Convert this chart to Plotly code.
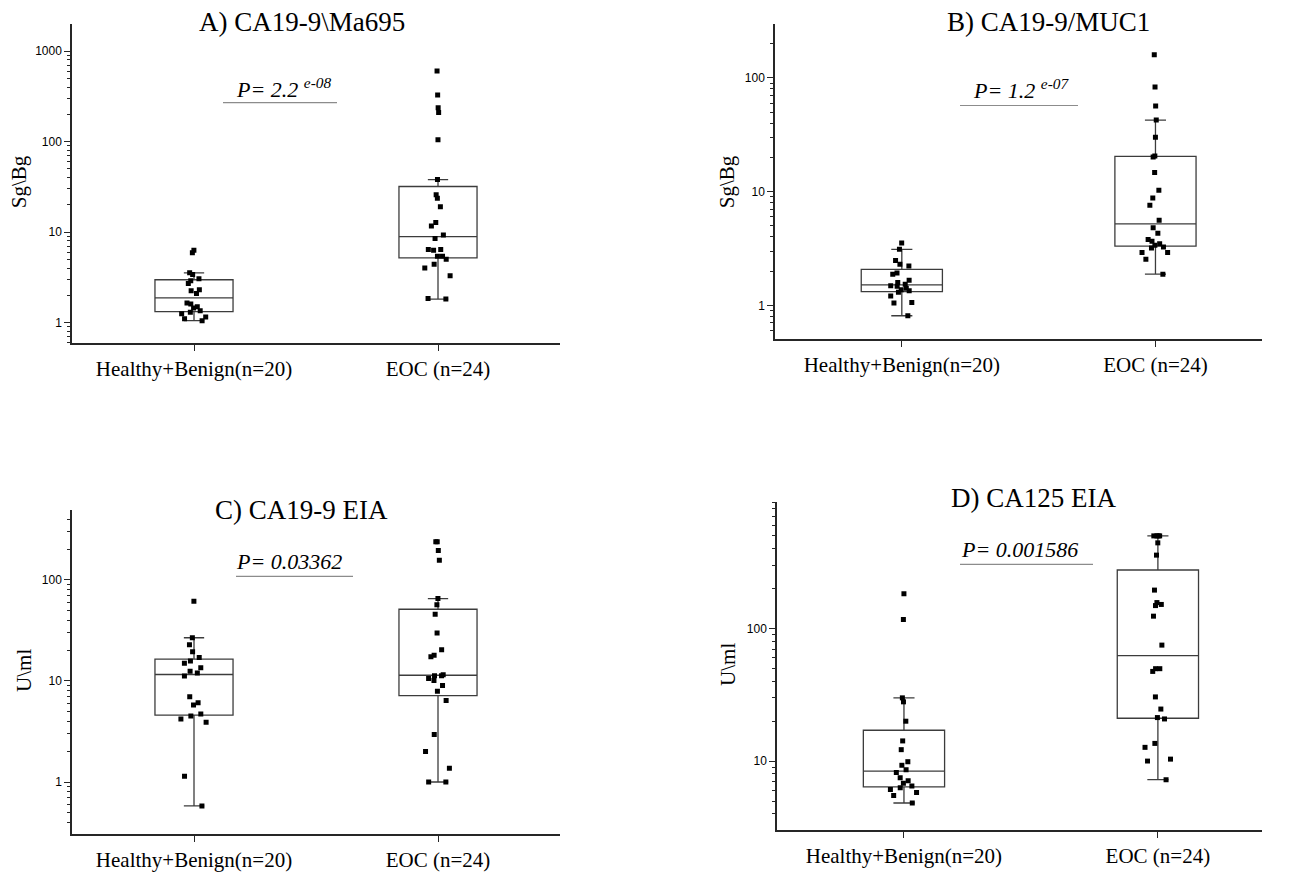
import plotly.graph_objects as go

# ---------------- data ----------------
groups = ["Healthy+Benign(n=20)", "EOC (n=24)"]

# A) CA19-9\Ma695  (Sg\Bg)
a_healthy = [6.3, 5.9, 3.55, 3.4, 3.05, 2.9, 2.7, 2.3, 2.25, 2.1,
             1.65, 1.6, 1.5, 1.45, 1.35, 1.3, 1.25, 1.15, 1.1, 1.05]
a_eoc = [601, 327, 237, 209, 105, 38, 25.8, 23.7, 19, 12.8, 11.7, 9.3,
         8.5, 6.4, 6.4, 6.3, 5.4, 5.4, 5.0, 4.4, 4.0, 3.3, 1.85, 1.82]

# B) CA19-9/MUC1  (Sg\Bg)
b_healthy = [3.54, 3.11, 2.48, 2.3, 2.22, 1.92, 1.88, 1.66, 1.59, 1.53,
             1.49, 1.47, 1.41, 1.37, 1.34, 1.3, 1.21, 1.06, 1.05, 0.81]
b_eoc = [160, 83, 56.5, 42.6, 30, 20.6, 20.2, 14.7, 10.3, 8.8, 7.6, 5.6,
         4.8, 4.3, 3.8, 3.66, 3.48, 3.37, 3.26, 3.19, 2.91, 2.91, 2.54, 1.88]

# C) CA19-9 EIA  (U\ml)
c_healthy = [61.6, 26.8, 22.9, 19.5, 17.1, 15.8, 15.0, 13.5, 12.5, 12.0,
             11.2, 7.0, 6.1, 5.8, 4.7, 4.5, 4.2, 3.9, 1.14, 0.58]
c_eoc = [239, 239, 196, 157, 65.5, 56.7, 45.9, 29.8, 20.4, 18, 17.4, 11.5,
         11.3, 11.3, 10.6, 10.1, 9.0, 7.9, 6.4, 2.95, 2.0, 1.37, 1.0, 1.0]

# D) CA125 EIA  (U\ml)
d_healthy = [183, 117, 30, 28, 20, 14.2, 12.2, 9.9, 9.3, 8.6,
             8.2, 7.5, 7.1, 6.8, 6.5, 6.3, 6.1, 5.8, 5.5, 4.83]
d_eoc = [500, 500, 500, 500, 443, 358, 195, 157, 152, 149, 124, 75,
         49.8, 49.8, 47.5, 30.5, 24.7, 21.3, 20.8, 13.6, 12.7, 10.35, 10.0, 7.24]

panel_titles = ["A) CA19-9\\Ma695", "B) CA19-9/MUC1", "C) CA19-9 EIA", "D) CA125 EIA"]
y_titles = ["Sg\\Bg", "Sg\\Bg", "U\\ml", "U\\ml"]
p_labels = ["<i>P= 2.2 <sup>e-08</sup></i>", "<i>P= 1.2 <sup>e-07</sup></i>",
            "<i>P= 0.03362</i>", "<i>P= 0.001586</i>"]
y_tickvals = [[1, 10, 100, 1000], [1, 10, 100], [1, 10, 100], [10, 100]]

# ---------------- layout geometry (pixels of a 1295x872 page) ----------------
W, H = 1295, 872


def fx(px):
    return px / W


def fy(py):
    return 1 - py / H


panels = [
    # x-left, x-right, y-top, y-bottom, log range, x range
    dict(x0=72, x1=560, y0=24, y1=345, yr=[-0.23, 3.30], xr=[-0.5, 1.5]),
    dict(x0=775, x1=1262, y0=24, y1=341, yr=[-0.30, 2.475], xr=[-0.5, 1.42]),
    dict(x0=72, x1=560, y0=512, y1=838, yr=[-0.516, 2.696], xr=[-0.5, 1.5]),
    dict(x0=777, x1=1262, y0=504, y1=834, yr=[0.479, 2.957], xr=[-0.5, 1.41]),
]
title_pos = [(302, 22), (1048, 22), (301, 512), (1033, 500)]
ytitle_pos = [(19, 183), (727, 183), (24, 674), (728, 668)]
p_pos = [(283, 88), (1021, 89), (289, 564), (1019, 552)]
p_line = [(223, 337, 103), (960, 1078, 106), (236, 353, 579), (960, 1093, 567)]

data = [(a_healthy, a_eoc), (b_healthy, b_eoc), (c_healthy, c_eoc), (d_healthy, d_eoc)]

AX = "#262626"
SERIF = "Liberation Serif"
SANS = "Liberation Sans"

fig = go.Figure()
layout = dict(
    width=W, height=H, margin=dict(l=0, r=0, t=0, b=0),
    paper_bgcolor="white", plot_bgcolor="white", showlegend=False,
    annotations=[], shapes=[],
)

for i, (p, (hv, ev)) in enumerate(zip(panels, data)):
    k = "" if i == 0 else str(i + 1)
    xa, ya = "x" + k, "y" + k
    for grp, vals in zip(groups, (hv, ev)):
        fig.add_trace(go.Box(
            x=[grp] * len(vals), y=vals, name=grp,
            xaxis=xa, yaxis=ya,
            boxpoints="all", jitter=0.4, pointpos=0,
            quartilemethod="exclusive",
            width=0.32, whiskerwidth=0.26,
            fillcolor="rgba(255,255,255,0)",
            line=dict(color="#3c3c3c", width=1.3),
            marker=dict(symbol="square", size=5, color="black",
                        line=dict(width=0)),
            hoverinfo="y",
        ))

    lo, hi = p["yr"]
    dec = range(int(lo) - 1, int(hi) + 2)
    minor_vals = [m * 10 ** d for d in dec for m in range(2, 10)]

    layout["xaxis" + k] = dict(
        domain=[fx(p["x0"]), fx(p["x1"])], anchor=ya,
        type="category", categoryorder="array", categoryarray=groups,
        range=p["xr"], showline=True, linecolor=AX, linewidth=1.5,
        ticks="outside", ticklen=6, tickwidth=1.2, tickcolor=AX,
        tickfont=dict(family=SERIF, size=21, color="black"),
        showgrid=False, zeroline=False,
    )
    layout["yaxis" + k] = dict(
        domain=[fy(p["y1"]), fy(p["y0"])], anchor=xa,
        type="log", range=[lo, hi],
        showline=True, linecolor=AX, linewidth=1.5,
        ticks="outside", ticklen=6, tickwidth=1.2, tickcolor=AX,
        tickvals=y_tickvals[i], ticktext=[str(v) for v in y_tickvals[i]],
        tickfont=dict(family=SANS, size=12, color="black"),
        minor=dict(ticks="outside", ticklen=3, tickwidth=1, tickcolor=AX,
                   tickvals=minor_vals, showgrid=False),
        showgrid=False, zeroline=False,
    )

    tx, ty = title_pos[i]
    layout["annotations"].append(dict(
        text=panel_titles[i], x=fx(tx), y=fy(ty), xref="paper", yref="paper",
        xanchor="center", yanchor="middle", showarrow=False,
        font=dict(family=SERIF, size=27, color="black"),
    ))
    ax_, ay_ = ytitle_pos[i]
    layout["annotations"].append(dict(
        text=y_titles[i], x=fx(ax_), y=fy(ay_), xref="paper", yref="paper",
        xanchor="center", yanchor="middle", showarrow=False, textangle=-90,
        font=dict(family=SERIF, size=21, color="black"),
    ))
    px_, py_ = p_pos[i]
    layout["annotations"].append(dict(
        text=p_labels[i], x=fx(px_), y=fy(py_), xref="paper", yref="paper",
        xanchor="center", yanchor="middle", showarrow=False,
        font=dict(family=SERIF, size=22, color="black"),
    ))
    lx0, lx1, ly = p_line[i]
    layout["shapes"].append(dict(
        type="line", xref="paper", yref="paper",
        x0=fx(lx0), x1=fx(lx1), y0=fy(ly), y1=fy(ly),
        line=dict(color="#8c8c8c", width=1.2),
    ))

fig.update_layout(**layout)
fig.write_html("out.html")
